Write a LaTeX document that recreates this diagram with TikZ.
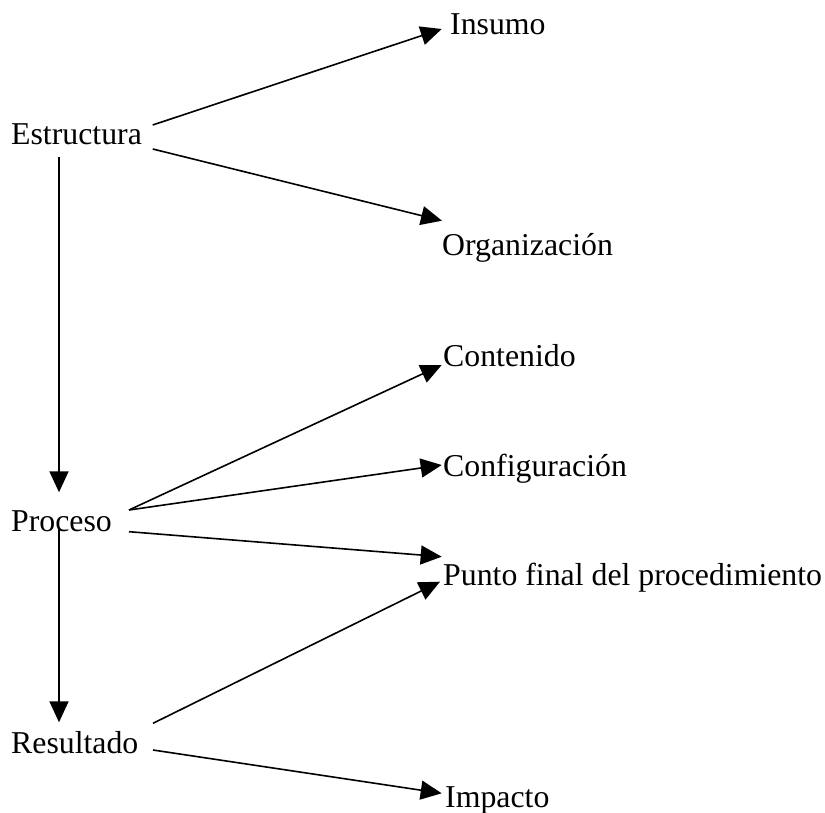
\documentclass[tikz,border=0pt]{standalone}
\usepackage{fontspec}
\setmainfont{Liberation Serif}
\usetikzlibrary{arrows.meta}
\begin{document}
\begin{tikzpicture}[x=1pt,y=-1pt,
  label/.style={anchor=base west,inner sep=0pt,font=\fontsize{31.8}{38}\selectfont},
  link/.style={line width=1.6pt,-{Triangle[length=21pt,width=19pt]}}]
\useasboundingbox[fill=white] (0,0) rectangle (825,813);

% left column
\node[label] (est) at (11,145) {Estructura};
\node[label] (pro) at (11,531.7) {Proceso};
\node[label] (res) at (11,753.3) {Resultado};

% right column
\node[label] (ins) at (450,35) {Insumo};
\node[label] (org) at (442,255) {Organización};
\node[label] (con) at (443,366) {Contenido};
\node[label] (cfg) at (443,476.7) {Configuración};
\node[label] (pun) at (443,585) {Punto final del procedimiento};
\node[label] (imp) at (445,807.3) {Impacto};

% Estructura
\draw[link] ([shift={(141.7,-20)}]est.base west) -- ([shift={(-8.3,-6)}]ins.base west);
\draw[link] ([shift={(141.7,4)}]est.base west) -- ([shift={(0,-34.3)}]org.base west);
\draw[link] ([shift={(48,11.7)}]est.base west) -- ([shift={(48,-39.4)}]pro.base west);

% Proceso
\draw[link] ([shift={(118,-21.7)}]pro.base west) -- ([shift={(-1.3,-1)}]con.base west);
\draw[link] ([shift={(118,-21.7)}]pro.base west) -- ([shift={(-1.3,-11.7)}]cfg.base west);
\draw[link] ([shift={(118,0)}]pro.base west) -- ([shift={(-1.3,-28.3)}]pun.base west);
\draw[link] ([shift={(48,-3.7)}]pro.base west) -- ([shift={(48,-31)}]res.base west);

% Resultado
\draw[link] ([shift={(142,-30)}]res.base west) -- ([shift={(-3,-3.3)}]pun.base west);
\draw[link] ([shift={(142,-3.3)}]res.base west) -- ([shift={(-3.3,-14)}]imp.base west);
\end{tikzpicture}
\end{document}
